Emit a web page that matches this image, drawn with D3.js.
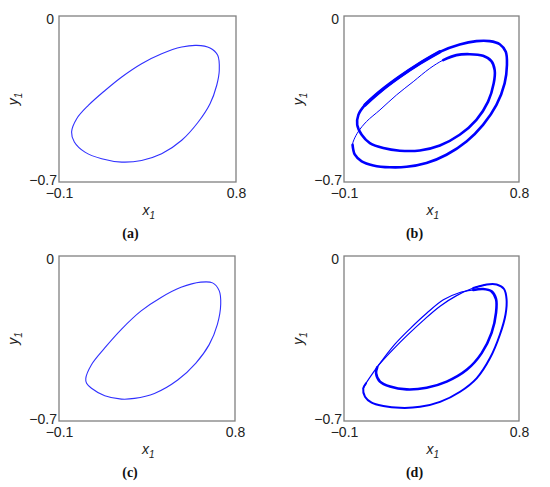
<!DOCTYPE html>
<html><head><meta charset="utf-8">
<script src="https://cdn.jsdelivr.net/npm/d3@7"></script>
<style>
html,body{margin:0;padding:0;background:#fff;}
svg{display:block;}
</style>
</head><body>
<svg id="chart" width="550" height="487"></svg>
<script>
// ---- data (x1, y1) ----
const xTicks = [-0.1, 0.8];
const yTicks = [-0.7, 0];
const captions = ["(a)", "(b)", "(c)", "(d)"];

// (a) single loop
const loopA = [[-0.036,-0.489],[-0.010,-0.433],[0.049,-0.377],[0.134,-0.314],[0.219,-0.257],[0.320,-0.201],[0.422,-0.159],[0.524,-0.131],[0.600,-0.124],[0.668,-0.135],[0.707,-0.166],[0.715,-0.229],[0.702,-0.292],[0.668,-0.370],[0.608,-0.447],[0.524,-0.524],[0.422,-0.581],[0.320,-0.609],[0.219,-0.616],[0.117,-0.602],[0.032,-0.574],[-0.022,-0.531]];

// (c) single loop
const loopC = [[0.037,-0.519],[0.066,-0.461],[0.134,-0.390],[0.219,-0.311],[0.320,-0.233],[0.422,-0.176],[0.524,-0.133],[0.625,-0.111],[0.685,-0.114],[0.719,-0.147],[0.727,-0.204],[0.710,-0.290],[0.668,-0.376],[0.600,-0.454],[0.507,-0.526],[0.388,-0.583],[0.286,-0.604],[0.219,-0.607],[0.134,-0.593],[0.066,-0.561],[0.041,-0.540]];

// (b) period-2 orbit: thick part (outer + inner loop) and thin connecting branch
const orbitBThick = [[-0.056,-0.543],[-0.044,-0.585],[-0.009,-0.613],[0.051,-0.630],[0.136,-0.638],[0.222,-0.636],[0.324,-0.620],[0.427,-0.585],[0.530,-0.529],[0.615,-0.459],[0.684,-0.375],[0.726,-0.284],[0.738,-0.207],[0.732,-0.151],[0.701,-0.119],[0.649,-0.106],[0.581,-0.106],[0.495,-0.120],[0.393,-0.151],[0.290,-0.200],[0.187,-0.256],[0.085,-0.319],[0.008,-0.375],[-0.026,-0.417],[-0.032,-0.459],[-0.009,-0.501],[0.033,-0.536],[0.102,-0.557],[0.187,-0.568],[0.290,-0.567],[0.393,-0.546],[0.495,-0.501],[0.581,-0.438],[0.641,-0.361],[0.670,-0.284],[0.675,-0.228],[0.658,-0.190],[0.615,-0.168],[0.547,-0.161],[0.478,-0.165],[0.410,-0.186]];
const orbitBThin = [[0.478,-0.165],[0.410,-0.186],[0.341,-0.221],[0.256,-0.277],[0.170,-0.333],[0.085,-0.396],[0.016,-0.445],[-0.026,-0.487],[-0.049,-0.522],[-0.056,-0.543],[-0.044,-0.585]];
// extra-wide band on the upper-left side of the outer loop in (b)
const orbitBBand = [[0.393,-0.151],[0.290,-0.200],[0.187,-0.256],[0.085,-0.319],[0.008,-0.375]];

// (d) period-2 orbit: outer loop, branch A, inner loop, branch B
const orbitDOuter = [[0.013,-0.540],[-0.001,-0.562],[0.008,-0.597],[0.042,-0.622],[0.102,-0.636],[0.188,-0.644],[0.291,-0.640],[0.394,-0.619],[0.497,-0.576],[0.582,-0.519],[0.651,-0.433],[0.702,-0.333],[0.731,-0.247],[0.736,-0.183],[0.723,-0.140],[0.685,-0.121],[0.634,-0.121],[0.565,-0.136]];
const orbitDBranchA = [[0.634,-0.121],[0.565,-0.136],[0.479,-0.168],[0.394,-0.213],[0.308,-0.273],[0.222,-0.339],[0.154,-0.395],[0.102,-0.441],[0.071,-0.472],[0.065,-0.497]];
const orbitDInner = [[0.071,-0.472],[0.065,-0.497],[0.085,-0.533],[0.137,-0.554],[0.222,-0.566],[0.325,-0.559],[0.428,-0.533],[0.531,-0.483],[0.608,-0.412],[0.659,-0.326],[0.682,-0.240],[0.682,-0.183],[0.659,-0.150],[0.616,-0.140],[0.565,-0.144]];
const orbitDBranchB = [[0.616,-0.140],[0.565,-0.144],[0.496,-0.155],[0.411,-0.186],[0.325,-0.243],[0.239,-0.309],[0.162,-0.374],[0.094,-0.445],[0.042,-0.504],[0.013,-0.540],[-0.001,-0.562]];

// ---- layout ----
const svg = d3.select("#chart");
const panels = [
  {cap: captions[0], left: 59,  top: 16,  right: 236, bottom: 182},
  {cap: captions[1], left: 344, top: 16,  right: 519, bottom: 182},
  {cap: captions[2], left: 59,  top: 256, right: 235, bottom: 421},
  {cap: captions[3], left: 344, top: 256, right: 519, bottom: 421}
];
const blue = "#0000ff";
const sans = "'Liberation Sans', Arial, sans-serif";
const serif = "'Liberation Serif', 'Times New Roman', serif";

function drawPanel(p, curves) {
  const x = d3.scaleLinear().domain([xTicks[0], xTicks[1]]).range([p.left, p.right]);
  const y = d3.scaleLinear().domain([yTicks[0], yTicks[1]]).range([p.bottom, p.top]);
  const g = svg.append("g");

  // curves
  curves.forEach(c => {
    const line = d3.line().x(d => x(d[0])).y(d => y(d[1]))
      .curve(c.closed ? d3.curveCatmullRomClosed.alpha(0.5) : d3.curveCatmullRom.alpha(0.5));
    g.append("path").attr("d", line(c.data))
      .attr("fill", "none").attr("stroke", c.color || blue)
      .attr("stroke-width", c.w).attr("stroke-linecap", "round").attr("stroke-linejoin", "round");
  });

  // frame
  g.append("rect").attr("x", p.left).attr("y", p.top)
    .attr("width", p.right - p.left).attr("height", p.bottom - p.top)
    .attr("fill", "none").attr("stroke", "#808080").attr("stroke-width", 1.3);

  // axes (labels only)
  const ax = g.append("g").attr("transform", `translate(0,${p.bottom})`)
    .call(d3.axisBottom(x).tickValues(xTicks).tickSize(0).tickPadding(6).tickFormat(d3.format(".1f")));
  ax.select(".domain").remove();
  ax.selectAll(".tick text").style("font-family", sans).style("font-size", "14px").style("fill", "#222");
  const ay = g.append("g").attr("transform", `translate(${p.left},0)`)
    .call(d3.axisLeft(y).tickValues(yTicks).tickSize(0).tickPadding(3).tickFormat(d => d === 0 ? "0" : d3.format(".1f")(d)));
  ay.select(".domain").remove();
  ay.selectAll(".tick text").style("font-family", sans).style("font-size", "14px").style("fill", "#222")
    .attr("dy", d => d === 0 ? "0.5em" : "0.2em")
    .attr("x", d => d === 0 ? -5 : -2);

  // axis titles
  const cx = (p.left + p.right) / 2;
  const xt = g.append("text").attr("x", cx - 5).attr("y", p.bottom + 33)
    .style("font-family", sans).style("font-size", "14px")
    .style("font-style", "italic").style("fill", "#222");
  xt.append("tspan").text("x");
  xt.append("tspan").style("font-size", "10px").attr("dy", 4).text("1");

  const cy = (p.top + p.bottom) / 2;
  const yt = g.append("text").attr("transform", `translate(${p.left - 41},${cy}) rotate(-90)`)
    .attr("text-anchor", "middle")
    .style("font-family", sans).style("font-size", "14px")
    .style("font-style", "italic").style("fill", "#222");
  yt.append("tspan").text("y");
  yt.append("tspan").style("font-size", "10px").attr("dy", 4).text("1");

  // caption
  g.append("text").attr("x", cx - 17).attr("y", p.bottom + 56)
    .attr("text-anchor", "middle")
    .style("font-family", serif).style("font-size", "14px")
    .style("font-weight", "bold").style("fill", "#111").text(p.cap);
}

drawPanel(panels[0], [{data: loopA, closed: true, w: 1.1, color: "#3030ff"}]);
drawPanel(panels[1], [
  {data: orbitBThin, closed: false, w: 1.0},
  {data: orbitBThick, closed: false, w: 2.6},
  {data: orbitBBand, closed: false, w: 3.4}
]);
drawPanel(panels[2], [{data: loopC, closed: true, w: 1.1, color: "#3030ff"}]);
drawPanel(panels[3], [
  {data: orbitDBranchA, closed: false, w: 1.2},
  {data: orbitDBranchB, closed: false, w: 1.2},
  {data: orbitDOuter, closed: false, w: 2.0},
  {data: orbitDInner, closed: false, w: 2.6}
]);
</script>
</body></html>
